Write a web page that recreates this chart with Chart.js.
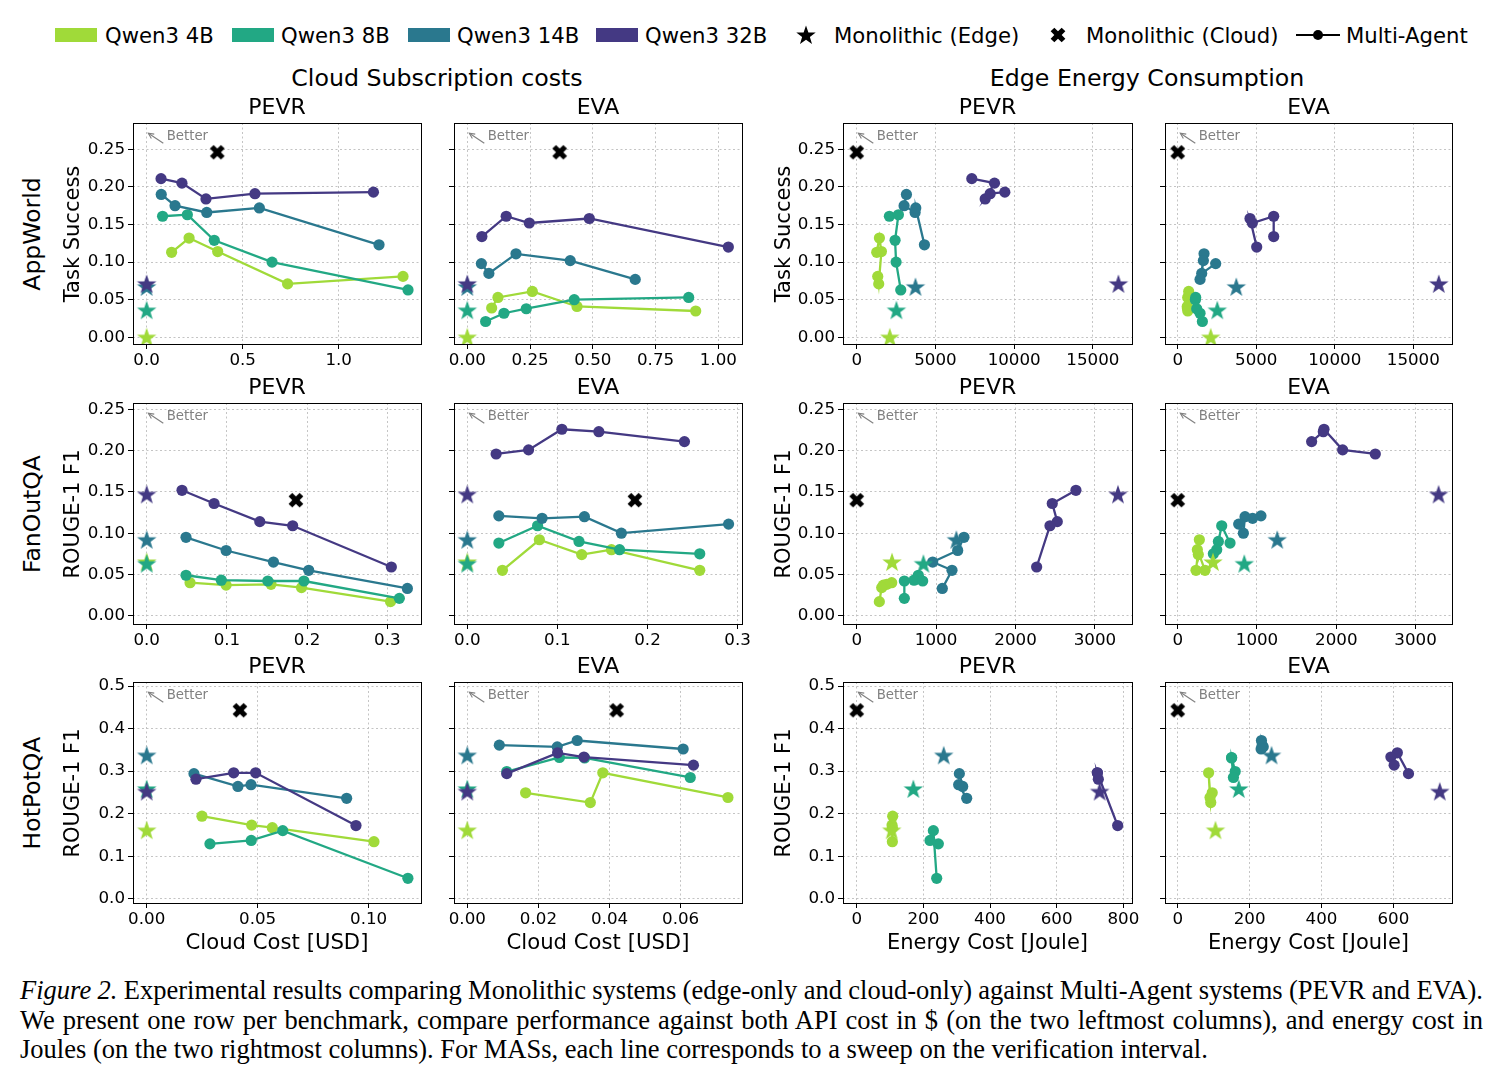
<!DOCTYPE html>
<html><head><meta charset="utf-8">
<script src="https://cdn.jsdelivr.net/npm/chart.js@4.4.1/dist/chart.umd.min.js"></script>
<style>
body{margin:0;background:#fff;width:1499px;height:1080px;position:relative;overflow:hidden;font-family:"DejaVu Sans",sans-serif;}
.abs{position:absolute;white-space:nowrap;color:#000;line-height:1;}
canvas.panel{position:absolute;}
.cap{position:absolute;left:20px;font-family:"Liberation Serif","Times New Roman",serif;font-size:26.5px;line-height:30px;white-space:nowrap;color:#000;}
</style></head><body>
<script>
// ---------------- DATA ----------------
const models = ["Qwen3 4B", "Qwen3 8B", "Qwen3 14B", "Qwen3 32B"];
const benchmarks = ["AppWorld", "FanOutQA", "HotPotQA"];
const methods = ["PEVR", "EVA"];
const scoreLabels = ["Task Success", "ROUGE-1 F1", "ROUGE-1 F1"];

// AppWorld (task success), one inner array per model: 4B, 8B, 14B, 32B
const appworldPevrScore = [[0.113,0.132,0.114,0.071,0.081],[0.161,0.163,0.129,0.100,0.063],[0.190,0.175,0.166,0.172,0.123],[0.211,0.205,0.184,0.191,0.193]];
const appworldPevrCloud = [[0.130,0.221,0.370,0.734,1.335],[0.083,0.212,0.352,0.653,1.361],[0.076,0.148,0.313,0.587,1.210],[0.075,0.184,0.309,0.564,1.181]];
const appworldPevrEnergy = [[1271,1441,1568,1398,1335],[2076,2648,2436,2500,2797],[3157,3008,3708,3750,4301],[7309,8750,8157,8475,9407]];
const appworldEvaScore = [[0.039,0.053,0.061,0.041,0.035],[0.021,0.032,0.038,0.050,0.053],[0.098,0.085,0.111,0.102,0.077],[0.134,0.161,0.152,0.158,0.120]];
const appworldEvaCloud = [[0.097,0.122,0.259,0.437,0.910],[0.073,0.146,0.235,0.426,0.882],[0.056,0.086,0.194,0.410,0.669],[0.058,0.155,0.247,0.486,1.040]];
const appworldEvaEnergy = [[615,637,700,610,640],[1570,1422,1209,1125,1146],[2419,1528,1676,1634,1422],[6111,6111,4753,4604,5029]];

// FanOutQA (ROUGE-1 F1)
const fanoutPevrScore = [[0.040,0.037,0.038,0.034,0.017],[0.049,0.043,0.042,0.042,0.021],[0.095,0.079,0.065,0.055,0.033],[0.152,0.136,0.114,0.109,0.059]];
const fanoutPevrCloud = [[0.054,0.099,0.155,0.193,0.304],[0.049,0.093,0.151,0.196,0.315],[0.049,0.099,0.158,0.202,0.325],[0.044,0.084,0.141,0.182,0.305]];
const fanoutPevrEnergy = [[441,336,378,315,285],[776,722,831,600,600],[1351,1272,957,1200,1078],[2761,2463,2526,2434,2266]];
const fanoutEvaScore = [[0.055,0.092,0.074,0.080,0.055],[0.088,0.109,0.090,0.080,0.075],[0.121,0.118,0.120,0.100,0.111],[0.196,0.201,0.226,0.223,0.211]];
const fanoutEvaCloud = [[0.039,0.080,0.127,0.160,0.258],[0.035,0.078,0.124,0.169,0.258],[0.035,0.083,0.130,0.171,0.290],[0.032,0.068,0.105,0.146,0.241]];
const fanoutEvaEnergy = [[231,273,260,248,345],[660,555,513,492,450],[1050,945,849,828,769],[2492,2080,1845,1836,1689]];

// HotPotQA (ROUGE-1 F1)
const hotpotPevrScore = [[0.194,0.173,0.167,0.134],[0.129,0.137,0.160,0.048],[0.294,0.264,0.268,0.236],[0.281,0.296,0.296,0.172]];
const hotpotPevrCloud = [[0.0249,0.0473,0.0566,0.1024],[0.0285,0.0471,0.0613,0.1177],[0.0213,0.0411,0.0470,0.0901],[0.0222,0.0392,0.0491,0.0943]];
const hotpotPevrEnergy = [[108,106,107,107],[245,220,230,240],[308,318,306,330],[725,722,722,783]];
const hotpotEvaScore = [[0.249,0.226,0.296,0.238],[0.299,0.332,0.331,0.285],[0.361,0.357,0.372,0.352],[0.294,0.343,0.333,0.314]];
const hotpotEvaCloud = [[0.0164,0.0346,0.0381,0.0733],[0.0111,0.0259,0.0330,0.0627],[0.0090,0.0253,0.0309,0.0607],[0.0111,0.0254,0.0328,0.0636]];
const hotpotEvaEnergy = [[96,92,86,90],[160,150,150,155],[235,238,233,232],[642,611,593,602]];

// Monolithic (Edge): per benchmark, per model (4B, 8B, 14B, 32B); cloud cost is zero
const edgeScoreAppworld = [0.000,0.036,0.067,0.071];
const edgeEnergyAppworld = [2100,2520,3730,16620];
const edgeScoreFanout = [0.065,0.063,0.092,0.147];
const edgeEnergyFanout = [445,840,1255,3290];
const edgeScoreHotpot = [0.161,0.258,0.337,0.252];
const edgeEnergyHotpot = [105,170,261,729];
// Monolithic (Cloud): per benchmark (AppWorld, FanOutQA, HotPotQA); energy is zero
const cloudMonoCost = [0.368, 0.186, 0.042];
const cloudMonoScore = [0.246, 0.140, 0.443];

// tick values / labels
const yTicksRow = [[0,0.05,0.10,0.15,0.20,0.25],[0,0.05,0.10,0.15,0.20,0.25],[0,0.1,0.2,0.3,0.4,0.5]];
const yTickLabelsRow = [["0.00","0.05","0.10","0.15","0.20","0.25"],["0.00","0.05","0.10","0.15","0.20","0.25"],["0.0","0.1","0.2","0.3","0.4","0.5"]];
const xTicks = [
  [[0,0.5,1.0],[0,0.25,0.5,0.75,1.0],[0,5000,10000,15000],[0,5000,10000,15000]],
  [[0,0.1,0.2,0.3],[0,0.1,0.2,0.3],[0,1000,2000,3000],[0,1000,2000,3000]],
  [[0,0.05,0.10],[0,0.02,0.04,0.06],[0,200,400,600,800],[0,200,400,600]]
];
const xTickLabels = [
  [["0.0","0.5","1.0"],["0.00","0.25","0.50","0.75","1.00"],["0","5000","10000","15000"],["0","5000","10000","15000"]],
  [["0.0","0.1","0.2","0.3"],["0.0","0.1","0.2","0.3"],["0","1000","2000","3000"],["0","1000","2000","3000"]],
  [["0.00","0.05","0.10"],["0.00","0.02","0.04","0.06"],["0","200","400","600","800"],["0","200","400","600"]]
];

// ---------------- LAYOUT / STYLE ----------------
const colors = ["#a0da39", "#22a884", "#2a788e", "#443983"];
const colL = [133, 454, 843, 1165];
const colR = [421, 742, 1132, 1452];
const rowT = [123, 403, 682];
const PH = 221;
const xRange = [
  [[-0.071,1.4286],[-0.053,1.0944],[-871,17483],[-809,17463]],
  [[-0.0171,0.342],[-0.01476,0.3049],[-172.5,3467],[-160,3459]],
  [[-0.00617,0.1236],[-0.00374,0.07725],[-41.1,826],[-35.3,763]]
];
const yRange = [[-0.0089,0.28497],[-0.0101,0.2578],[-0.0101,0.5095]];
const PADL = 75, PADT = 15, PADR = 30, AXH = 35;

const scoreTable = [[appworldPevrScore, appworldEvaScore],[fanoutPevrScore, fanoutEvaScore],[hotpotPevrScore, hotpotEvaScore]];
const cloudTable = [[appworldPevrCloud, appworldEvaCloud],[fanoutPevrCloud, fanoutEvaCloud],[hotpotPevrCloud, hotpotEvaCloud]];
const energyTable = [[appworldPevrEnergy, appworldEvaEnergy],[fanoutPevrEnergy, fanoutEvaEnergy],[hotpotPevrEnergy, hotpotEvaEnergy]];
const edgeScoreTable = [edgeScoreAppworld, edgeScoreFanout, edgeScoreHotpot];
const edgeEnergyTable = [edgeEnergyAppworld, edgeEnergyFanout, edgeEnergyHotpot];

// ---------------- MARKERS ----------------
function starMarker(color){
  const c=document.createElement('canvas'); c.width=24; c.height=24;
  const g=c.getContext('2d'); g.fillStyle=color; g.beginPath();
  const R=10.2, r=R*0.40, cx=12, cy=12.7;
  for(let k=0;k<10;k++){const a=-Math.PI/2+k*Math.PI/5; const rr=k%2?r:R; g.lineTo(cx+rr*Math.cos(a), cy+rr*Math.sin(a));}
  g.closePath(); g.fill(); return c;
}
function xMarker(color){
  const c=document.createElement('canvas'); c.width=20; c.height=20;
  const g=c.getContext('2d'); g.fillStyle=color;
  const t=2.6, e=7.8;
  const pts=[[-t,-e],[t,-e],[t,-t],[e,-t],[e,t],[t,t],[t,e],[-t,e],[-t,t],[-e,t],[-e,-t],[-t,-t]];
  const ca=Math.cos(Math.PI/4), sa=Math.sin(Math.PI/4);
  g.beginPath();
  pts.forEach(([x,y])=>g.lineTo(10+x*ca-y*sa, 10+x*sa+y*ca));
  g.closePath(); g.fill(); return c;
}
const starImgs = colors.map(starMarker);
const crossImg = xMarker('#000');

// ---------------- PLUGINS ----------------
const framePlugin = {
  id:'frame',
  afterDatasetsDraw(chart){
    const {ctx, chartArea:a} = chart;
    ctx.save();
    // "Better" annotation
    ctx.strokeStyle='#808080'; ctx.lineWidth=1.1;
    const hx=a.left+15.3, hy=a.top+10.3, tx=a.left+30.3, ty=a.top+20.3;
    ctx.beginPath(); ctx.moveTo(tx,ty); ctx.lineTo(hx,hy); ctx.stroke();
    const ang=Math.atan2(ty-hy, tx-hx);
    ctx.beginPath();
    ctx.moveTo(hx+6*Math.cos(ang+0.45), hy+6*Math.sin(ang+0.45));
    ctx.lineTo(hx,hy);
    ctx.lineTo(hx+6*Math.cos(ang-0.45), hy+6*Math.sin(ang-0.45));
    ctx.stroke();
    ctx.fillStyle='#808080'; ctx.font='13.3px "DejaVu Sans"'; ctx.textAlign='left'; ctx.textBaseline='middle';
    ctx.fillText('Better', a.left+33.7, a.top+13.5);
    // frame
    ctx.strokeStyle='#000'; ctx.lineWidth=1;
    ctx.strokeRect(Math.round(a.left)+0.5, Math.round(a.top)+0.5, Math.round(a.right-a.left), Math.round(a.bottom-a.top));
    ctx.restore();
  }
};

// ---------------- BUILD PANELS ----------------
for(let r=0;r<3;r++){
  for(let c=0;c<4;c++){
    const m = c%2;           // 0: PEVR, 1: EVA
    const isEnergy = c>=2;
    const W = colR[c]-colL[c];
    const cv = document.createElement('canvas');
    cv.className='panel';
    cv.width = PADL+W+PADR; cv.height = PADT+PH+AXH;
    cv.style.left=(colL[c]-PADL)+'px'; cv.style.top=(rowT[r]-PADT)+'px';
    document.body.appendChild(cv);

    const scores = scoreTable[r][m];
    const xs = isEnergy ? energyTable[r][m] : cloudTable[r][m];
    const datasets = [];
    datasets.push({data:[{x: isEnergy?0:cloudMonoCost[r], y: cloudMonoScore[r]}], pointStyle: crossImg, pointRadius:10, showLine:false, order:0});
    for(let i=0;i<4;i++){
      datasets.push({data:[{x: isEnergy?edgeEnergyTable[r][i]:0, y: edgeScoreTable[r][i]}], pointStyle: starImgs[i], pointRadius:12, showLine:false, order:0.4-i*0.05});
    }
    for(let i=0;i<4;i++){
      datasets.push({
        data: xs[i].map((x,k)=>({x, y: scores[i][k]})),
        showLine:true, borderColor:colors[i], backgroundColor:colors[i],
        pointBackgroundColor:colors[i], pointBorderColor:colors[i], pointBorderWidth:0,
        pointRadius:5.6, borderWidth:2.3, order: 4-i
      });
    }
    const xt = xTicks[r][c], xl = xTickLabels[r][c];
    const yt = yTicksRow[r], yl = yTickLabelsRow[r];
    const showY = (c===0 || c===2);
    const gridCommon = {color:'#bdbdbd', lineWidth:0.9, drawTicks:true, tickLength:5, tickColor:'#000', tickWidth:1, tickBorderDash:[]};
    new Chart(cv, {
      type:'scatter',
      data:{datasets},
      options:{
        responsive:false, animation:false, devicePixelRatio:1, events:[],
        layout:{padding:{left:0, top:PADT, right:PADR, bottom:0}},
        plugins:{legend:{display:false}, tooltip:{enabled:false}, title:{display:false}},
        scales:{
          x:{type:'linear', position:'bottom', min:xRange[r][c][0], max:xRange[r][c][1],
             afterBuildTicks:s=>{s.ticks = xt.map(v=>({value:v}));},
             afterFit:s=>{s.height=AXH;},
             ticks:{autoSkip:false, maxRotation:0, minRotation:0, padding:2, color:'#000', font:{family:'DejaVu Sans', size:16.7}, callback:(v,i)=>xl[i]},
             grid:gridCommon, border:{display:false, dash:[2,2.5]}},
          y:{type:'linear', position:'left', min:yRange[r][0], max:yRange[r][1],
             afterBuildTicks:s=>{s.ticks = yt.map(v=>({value:v}));},
             afterFit:s=>{s.width=PADL;},
             ticks:{display:showY, autoSkip:false, padding:3, color:'#000', font:{family:'DejaVu Sans', size:16.7}, callback:(v,i)=>yl[i]},
             grid:gridCommon, border:{display:false, dash:[2,2.5]}}
        }
      },
      plugins:[framePlugin]
    });
  }
}

// ---------------- TEXT ----------------
function addText(txt, cx, cy, size, rot, align){
  const d=document.createElement('div'); d.className='abs'; d.textContent=txt;
  d.style.fontSize=size+'px'; d.style.left=cx+'px'; d.style.top=cy+'px';
  if(align==='left') d.style.transform='translate(0,-50%)';
  else d.style.transform='translate(-50%,-50%)'+(rot?' rotate(-90deg)':'');
  document.body.appendChild(d); return d;
}
addText("Cloud Subscription costs", 437, 79, 23.7);
addText("Edge Energy Consumption", 1147, 79, 23.7);
const rowMid = rowT.map(t=>t+PH/2);
for(let r=0;r<3;r++){
  for(let c=0;c<4;c++){
    addText(methods[c%2], (colL[c]+colR[c])/2, rowT[r]-16, 22);
  }
  addText(benchmarks[r], 33, rowMid[r], 23.5, true);
  addText(scoreLabels[r], 72, rowMid[r], 21, true);
  addText(scoreLabels[r], 783, rowMid[r], 21, true);
}
addText("Cloud Cost [USD]", (colL[0]+colR[0])/2, 942, 21.2);
addText("Cloud Cost [USD]", (colL[1]+colR[1])/2, 942, 21.2);
addText("Energy Cost [Joule]", (colL[2]+colR[2])/2, 942, 21);
addText("Energy Cost [Joule]", (colL[3]+colR[3])/2, 942, 21);

// legend
const patchX=[55,232,408,596], textX=[105,281,457,645];
for(let i=0;i<4;i++){
  const p=document.createElement('div');
  p.style.cssText=`position:absolute;left:${patchX[i]}px;top:28px;width:42px;height:14px;background:${colors[i]};`;
  document.body.appendChild(p);
  addText(models[i], textX[i], 36, 21.2, false, 'left');
}
function placeMarker(img, cx, cy){
  const k=document.createElement('canvas'); k.width=img.width; k.height=img.height;
  k.getContext('2d').drawImage(img,0,0);
  k.style.cssText=`position:absolute;left:${cx-img.width/2}px;top:${cy-img.height/2}px;`;
  document.body.appendChild(k);
}
placeMarker(starMarker('#000'), 806, 35);
addText("Monolithic (Edge)", 834, 36, 21.2, false, 'left');
placeMarker(xMarker('#000'), 1058, 35);
addText("Monolithic (Cloud)", 1086, 36, 21.2, false, 'left');
const ln=document.createElement('div'); ln.style.cssText='position:absolute;left:1296px;top:34px;width:44px;height:2px;background:#000;'; document.body.appendChild(ln);
const dt=document.createElement('div'); dt.style.cssText='position:absolute;left:1313px;top:30px;width:10px;height:10px;border-radius:50%;background:#000;'; document.body.appendChild(dt);
addText("Multi-Agent", 1346, 36, 21.2, false, 'left');

// caption
function capLine(html, top, justify){
  const d=document.createElement('div'); d.className='cap'; d.style.top=top+'px'; d.innerHTML=html;
  document.body.appendChild(d);
  if(justify){
    const w=d.getBoundingClientRect().width;
    const n=(d.textContent.match(/ /g)||[]).length;
    d.style.wordSpacing=((1463-w)/n)+'px';
  }
}
capLine('<i>Figure 2.</i> Experimental results comparing Monolithic systems (edge-only and cloud-only) against Multi-Agent systems (PEVR and EVA).', 975, true);
capLine('We present one row per benchmark, compare performance against both API cost in $ (on the two leftmost columns), and energy cost in', 1005, true);
capLine('Joules (on the two rightmost columns). For MASs, each line corresponds to a sweep on the verification interval.', 1034, false);
</script>
</body></html>
